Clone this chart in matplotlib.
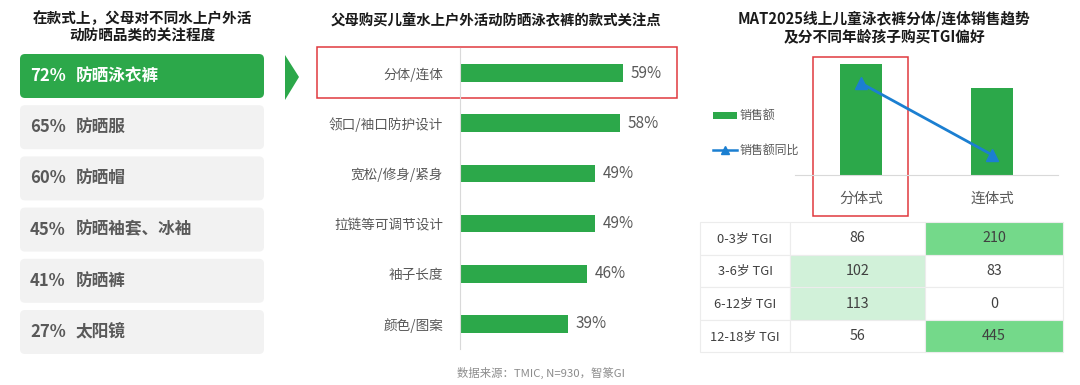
import matplotlib
matplotlib.use('Agg')
import matplotlib.pyplot as plt
from matplotlib.patches import FancyBboxPatch, Rectangle, Polygon

plt.rcParams['font.family'] = ['Noto Sans CJK SC', 'DejaVu Sans']

W, H = 1080, 385

GREEN = '#2ca84a'
BLUE = '#1b7fd1'
RED = '#e0393e'
GREY_TXT = '#595959'

# left panel: attention by product category
left_title = '在款式上，父母对不同水上户外活\n动防晒品类的关注程度'
left_pct = [72, 65, 60, 45, 41, 27]
left_items = ['防晒泳衣裤', '防晒服', '防晒帽', '防晒袖套、冰袖', '防晒裤', '太阳镜']

# middle panel: style concerns
mid_title = '父母购买儿童水上户外活动防晒泳衣裤的款式关注点'
mid_labels = ['分体/连体', '领口/袖口防护设计', '宽松/修身/紧身', '拉链等可调节设计', '袖子长度', '颜色/图案']
mid_values = [59, 58, 49, 49, 46, 39]

# right panel: sales trend (relative) and TGI table
right_title = 'MAT2025线上儿童泳衣裤分体/连体销售趋势\n及分不同年龄孩子购买TGI偏好'
styles = ['分体式', '连体式']
sales = [111, 87]
sales_yoy = [92, 20]
tgi_rows = ['0-3岁 TGI', '3-6岁 TGI', '6-12岁 TGI', '12-18岁 TGI']
tgi_split = [86, 102, 113, 56]
tgi_onepiece = [210, 83, 0, 445]

source = '数据来源：TMIC, N=930，智篆GI'


def px_rect(x0, y0, x1, y1):
    return [x0 / W, 1 - y1 / H, (x1 - x0) / W, (y1 - y0) / H]


fig = plt.figure(figsize=(W / 100, H / 100), dpi=100)
fig.patch.set_facecolor('white')

# overlay axis in pixel coordinates for the decorations
bg = fig.add_axes([0, 0, 1, 1])
bg.set_xlim(0, W)
bg.set_ylim(H, 0)
bg.axis('off')

# ---- left panel ----
bg.text(142, 27, left_title, ha='center', va='center', fontsize=10.5,
        fontweight='bold', color='#1a1a1a', linespacing=1.15)
box_top, box_step, box_h = 54, 51.2, 44
for i, (p, name) in enumerate(zip(left_pct, left_items)):
    y = box_top + i * box_step
    first = i == 0
    bg.add_patch(FancyBboxPatch((20, y), 244, box_h,
                                boxstyle='round,pad=0,rounding_size=5',
                                facecolor=GREEN if first else '#f2f2f2',
                                edgecolor='none'))
    c = 'white' if first else GREY_TXT
    bg.text(30, y + box_h / 2, f'{p}%', ha='left', va='center',
            fontsize=12, fontweight='bold', color=c)
    bg.text(76, y + box_h / 2, name, ha='left', va='center',
            fontsize=12, fontweight='bold', color=c)

bg.add_patch(Polygon([[285, 55], [299, 77], [285, 100]], closed=True,
                     facecolor=GREEN, edgecolor='none'))

# ---- middle panel ----
bg.text(496, 20, mid_title, ha='center', va='center', fontsize=10.4,
        fontweight='bold', color='#1a1a1a')

ax = fig.add_axes(px_rect(460, 48, 736, 349))
y = list(range(len(mid_labels)))
ax.barh(y, mid_values, height=0.35, color=GREEN)
ax.set_xlim(0, 100)
ax.set_ylim(len(mid_labels) - 0.5, -0.5)
for s in ['top', 'right', 'bottom']:
    ax.spines[s].set_visible(False)
ax.spines['left'].set_color('#d9d9d9')
ax.set_xticks([])
ax.set_yticks(y)
ax.set_yticklabels(mid_labels, fontsize=9.8, color=GREY_TXT)
ax.tick_params(axis='y', length=0, pad=12)
ax.patch.set_alpha(0)
for yi, v in zip(y, mid_values):
    ax.text(v + 2.8, yi, f'{v}%', va='center', ha='left', fontsize=11, color=GREY_TXT)

bg.add_patch(Rectangle((317, 47), 360, 51, facecolor='none', edgecolor=RED, lw=1.1))
bg.text(541, 373, source, ha='center', va='center', fontsize=8.2, color='#8c8c8c')

# ---- right panel ----
bg.text(884, 27, right_title, ha='center', va='center', fontsize=10.6,
        fontweight='bold', color='#1a1a1a', linespacing=1.15)

ax2 = fig.add_axes(px_rect(795, 45, 1058, 175))
xs = [0, 1]
ax2.bar(xs, sales, width=0.32, color=GREEN, zorder=2)
ax2.plot(xs, sales_yoy, color=BLUE, lw=2, marker='^', markersize=9, zorder=3)
ax2.set_xlim(-0.5, 1.5)
ax2.set_ylim(0, 130)
for s in ['top', 'right', 'left']:
    ax2.spines[s].set_visible(False)
ax2.spines['bottom'].set_color('#d9d9d9')
ax2.set_yticks([])
ax2.set_xticks(xs)
ax2.set_xticklabels(styles, fontsize=10.5, color=GREY_TXT)
ax2.tick_params(axis='x', length=0, pad=12)
ax2.patch.set_alpha(0)

# legend
bg.add_patch(Rectangle((713, 112), 24, 7, facecolor=GREEN, edgecolor='none'))
bg.text(740, 115, '销售额', ha='left', va='center', fontsize=8.6, color=GREY_TXT)
bg.plot([713, 737], [150, 150], color=BLUE, lw=1.8)
bg.plot([725], [150], marker='^', color=BLUE, markersize=6)
bg.text(740, 150, '销售额同比', ha='left', va='center', fontsize=8.6, color=GREY_TXT)

bg.add_patch(Rectangle((813, 57), 95, 159, facecolor='none', edgecolor=RED, lw=1.1))

# TGI table
col_x = [700, 790, 925, 1063]
row_top, row_h = 222, 32.6


def cell_color(v):
    if v >= 200:
        return '#74d98a'
    if v >= 100:
        return '#d1f1d9'
    return 'white'


for i, lab in enumerate(tgi_rows):
    yt = row_top + i * row_h
    vals = [tgi_split[i], tgi_onepiece[i]]
    bg.add_patch(Rectangle((col_x[0], yt), col_x[1] - col_x[0], row_h,
                           facecolor='white', edgecolor='#ececec', lw=0.8))
    bg.text((col_x[0] + col_x[1]) / 2, yt + row_h / 2, lab, ha='center', va='center',
            fontsize=9.3, color='#404040')
    for j, v in enumerate(vals):
        bg.add_patch(Rectangle((col_x[j + 1], yt), col_x[j + 2] - col_x[j + 1], row_h,
                               facecolor=cell_color(v), edgecolor='#ececec', lw=0.8))
        bg.text((col_x[j + 1] + col_x[j + 2]) / 2, yt + row_h / 2, str(v),
                ha='center', va='center', fontsize=10.3, color='#404040')

fig.savefig('out.png', dpi=100)
